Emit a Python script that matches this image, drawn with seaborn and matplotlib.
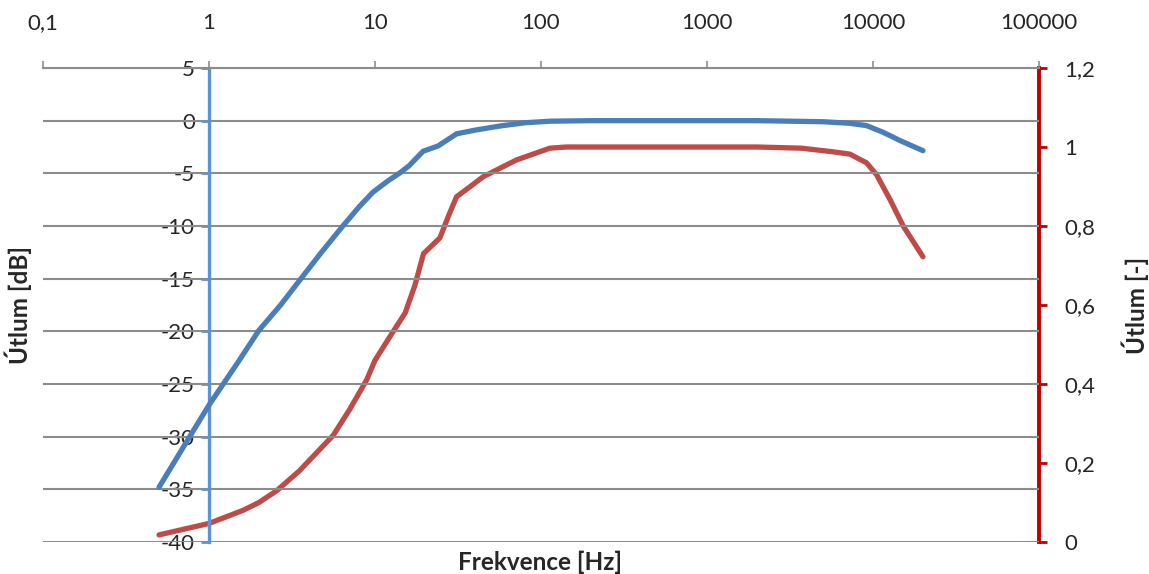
import numpy as np
import pandas as pd
import matplotlib
matplotlib.use("Agg")
import matplotlib.pyplot as plt
import seaborn as sns
from matplotlib.ticker import FixedLocator, FuncFormatter, NullLocator

# ---- data ----
freq_db = [0.5, 0.7, 1, 1.5, 2, 2.7, 3.5, 4.7, 6.4, 8, 9.7, 12, 14, 16, 19.5, 24,
           31, 40, 57, 80, 113, 200, 500, 1000, 2000, 5000, 7250, 9140, 11500, 14600, 20000]
atten_db = [-34.8, -31.0, -27.0, -22.9, -19.9, -17.5, -15.2, -12.6, -10.0, -8.2, -6.8,
            -5.7, -5.0, -4.3, -2.9, -2.4, -1.25, -0.9, -0.5, -0.2, -0.05, 0.0, 0.0, 0.0,
            0.0, -0.1, -0.25, -0.47, -1.1, -1.9, -2.85]

freq_lin = [0.5, 1, 1.6, 2, 2.56, 3.5, 5.6, 7, 8.9, 10, 12.3, 15.2, 17.4, 19.6, 24.6,
            28, 31, 45, 71, 113, 142, 500, 1000, 2000, 3700, 5700, 7250, 9140, 10500,
            12700, 15200, 20000]
atten_lin = [0.018, 0.047, 0.08, 0.10, 0.13, 0.18, 0.27, 0.334, 0.41, 0.46, 0.52, 0.58,
             0.65, 0.73, 0.77, 0.83, 0.874, 0.925, 0.967, 0.997, 1.0, 1.0, 1.0, 1.0,
             0.997, 0.988, 0.982, 0.96, 0.93, 0.866, 0.80, 0.722]

x_ticks = [0.1, 1, 10, 100, 1000, 10000, 100000]
x_labels = ["0,1", "1", "10", "100", "1000", "10000", "100000"]
left_ticks = [5, 0, -5, -10, -15, -20, -25, -30, -35, -40]
right_ticks = [0, 0.2, 0.4, 0.6, 0.8, 1.0, 1.2]

sns.set_theme(style="white")
plt.rcParams['font.family'] = ['Lato', 'DejaVu Sans']

BLUE_LINE = "#4a7ebb"
RED_LINE = "#be4b48"
BLUE_AX = "#5b93d8"
RED_AX = "#c00000"
GRID = "#8c8c8c"
FS = 16

fig = plt.figure(figsize=(11.49, 5.74), dpi=100)
ax = fig.add_axes([43/1149, 32/574, 996/1149, 474/574])
ax2 = ax.twinx()

df1 = pd.DataFrame({"f": freq_db, "v": atten_db})
df2 = pd.DataFrame({"f": freq_lin, "v": atten_lin})

sns.lineplot(data=df1, x="f", y="v", ax=ax, color=BLUE_LINE, linewidth=3.8, zorder=5,
             solid_joinstyle="round", solid_capstyle="round")
sns.lineplot(data=df2, x="f", y="v", ax=ax2, color=RED_LINE, linewidth=3.8, zorder=5,
             solid_joinstyle="round", solid_capstyle="round")

for a in (ax, ax2):
    a.set_xscale("log")
    a.set_xlim(0.1, 100000)
    a.set_xlabel("")
    a.set_ylabel("")
    a.patch.set_alpha(0)

ax.set_ylim(-40, 5)
ax2.set_ylim(0, 1.2)

# gridlines
for v in left_ticks:
    ax.axhline(v, color=GRID, linewidth=1.5, zorder=1)

# x axis on top
ax.xaxis.tick_top()
ax.xaxis.set_major_locator(FixedLocator(x_ticks))
ax.xaxis.set_minor_locator(NullLocator())
ax.set_xticklabels(x_labels)
ax.tick_params(axis="x", which="major", direction="out", length=5, width=1.2,
               color=GRID, labelsize=FS, pad=20, top=True, bottom=False,
               labeltop=True, labelbottom=False)
ax2.tick_params(axis="x", which="both", top=False, bottom=False,
                labeltop=False, labelbottom=False)

# spines
ax.spines["bottom"].set_visible(False)
ax.spines["right"].set_visible(False)
ax.spines["top"].set_color(GRID)
ax.spines["top"].set_linewidth(1.5)
ax.spines["left"].set_position(("data", 1))
ax.spines["left"].set_color(BLUE_AX)
ax.spines["left"].set_linewidth(2.4)
for s in ("top", "bottom", "left"):
    ax2.spines[s].set_visible(False)
ax2.spines["right"].set_color(RED_AX)
ax2.spines["right"].set_linewidth(2.8)

ax.yaxis.set_major_locator(FixedLocator(left_ticks))
ax.yaxis.set_major_formatter(FuncFormatter(lambda v, p: f"{int(v)}"))
ax.tick_params(axis="y", direction="out", length=6, width=2, color=BLUE_AX,
               labelsize=FS, pad=4, left=True, right=False)

ax2.yaxis.set_major_locator(FixedLocator(right_ticks))
ax2.yaxis.set_major_formatter(FuncFormatter(lambda v, p: f"{v:g}".replace(".", ",")))
ax2.tick_params(axis="y", direction="out", length=6, width=2, color=RED_AX,
                labelsize=FS, pad=12, right=True, left=False)

ax.set_zorder(ax2.get_zorder() + 1)
ax.patch.set_visible(False)

# axis titles
TFS = 17.5
fig.text(18/1149, 1 - 305/574, "Útlum [dB]", rotation=90, ha="center", va="center",
         fontsize=TFS, fontweight="bold")
fig.text(1135/1149, 1 - 305/574, "Útlum [-]", rotation=90, ha="center", va="center",
         fontsize=TFS, fontweight="bold")
fig.text(540/1149, 1 - 562/574, "Frekvence [Hz]", ha="center", va="center",
         fontsize=TFS, fontweight="bold")

fig.savefig("out.png", dpi=100)
